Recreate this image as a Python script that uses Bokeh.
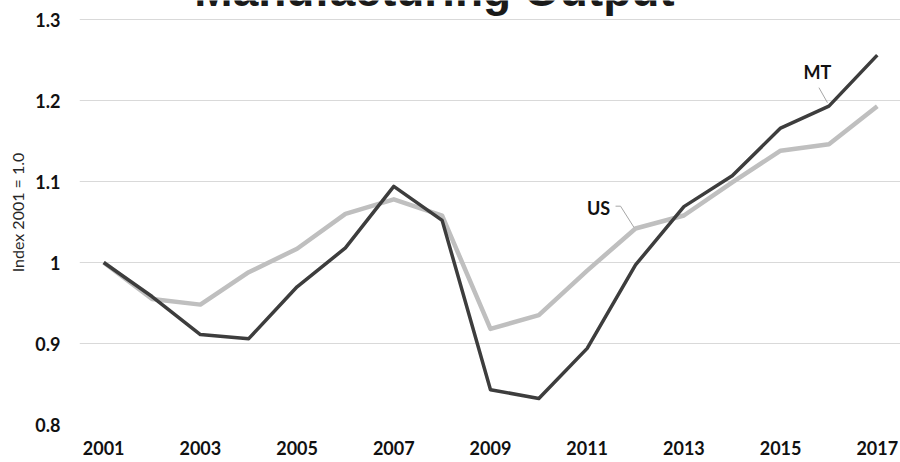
from bokeh.plotting import figure
from bokeh.models import Range1d, FixedTicker
from bokeh.core.properties import value
from bokeh.embed import file_html
from bokeh.resources import INLINE

# ---- data ----
years = list(range(2001, 2018))
mt = [1.000, 0.958, 0.911, 0.906, 0.970, 1.018, 1.094, 1.052, 0.843, 0.832,
      0.894, 0.997, 1.069, 1.107, 1.166, 1.193, 1.256]
us = [1.000, 0.955, 0.948, 0.988, 1.017, 1.060, 1.078, 1.058, 0.918, 0.935,
      0.990, 1.042, 1.058, 1.099, 1.138, 1.146, 1.193]
y_ticks = [0.8, 0.9, 1.0, 1.1, 1.2, 1.3]
y_tick_labels = ["0.8", "0.9", "1", "1.1", "1.2", "1.3"]
x_ticks = list(range(2001, 2018, 2))
title_text = "Manufacturing Output"
y_title = "Index 2001 = 1.0"

W, H = 900, 462
BL, BB = 79, 38
GRID_TOP_PX = 19          # pixel row of the 1.3 gridline
X0, X1 = 2000.5, 2017.48
FRAME_H = H - BB
YPX = (FRAME_H - GRID_TOP_PX) / 0.5
Y0, Y1 = 0.8, 1.3 + GRID_TOP_PX / YPX
XPX = (W - BL) / (X1 - X0)

p = figure(width=W, height=H, output_backend="svg", toolbar_location=None,
           x_range=Range1d(X0, X1), y_range=Range1d(Y0, Y1),
           min_border_left=BL, min_border_right=0, min_border_top=0,
           min_border_bottom=BB)
p.outline_line_color = None
p.background_fill_color = "white"
p.border_fill_color = "white"

p.xgrid.grid_line_color = None
p.ygrid.grid_line_color = "#d9d9d9"
p.ygrid.grid_line_width = 1

p.yaxis.ticker = FixedTicker(ticks=y_ticks)
p.yaxis.major_label_overrides = {t: l for t, l in zip(y_ticks, y_tick_labels)}
p.xaxis.ticker = FixedTicker(ticks=x_ticks)
for ax in (p.xaxis, p.yaxis):
    ax.axis_line_color = None
    ax.major_tick_line_color = None
    ax.minor_tick_line_color = None
    ax.major_tick_in = 0
    ax.major_tick_out = 0
    ax.major_label_text_font = "Lato"
    ax.major_label_text_font_style = "bold"
    ax.major_label_text_font_size = "18px"
    ax.major_label_text_color = "#111111"
p.yaxis.major_label_standoff = 19
p.xaxis.major_label_standoff = 16
p.yaxis.axis_label = y_title
p.yaxis.axis_label_text_font = "Lato"
p.yaxis.axis_label_text_font_style = "normal"
p.yaxis.axis_label_text_font_size = "16px"
p.yaxis.axis_label_text_color = "#262626"
p.yaxis.axis_label_standoff = 5

p.line(years, us, line_color="#bfbfbf", line_width=4.5, line_join="round")
p.line(years, mt, line_color="#3d3d3d", line_width=3.5, line_join="round")

# MT label + leader (anchored to 2016 MT value)
i = years.index(2016)
p.line([years[i] - 10 / XPX, years[i] - 1.5 / XPX],
       [mt[i] + 18.5 / YPX, mt[i] + 3.5 / YPX],
       line_color="#a6a6a6", line_width=1)
p.text([years[i] - 11.6 / XPX], [mt[i] + 34 / YPX], text=["MT"],
       text_font=value("Lato"), text_font_style="bold", text_font_size="18px",
       text_color="#111111", text_align="center", text_baseline="middle")

# US label + leader (anchored to 2012 US value)
j = years.index(2012)
p.line([years[j] - 20 / XPX, years[j] - 15 / XPX, years[j] - 1.5 / XPX],
       [us[j] + 22.3 / YPX, us[j] + 22.3 / YPX, us[j] + 1 / YPX],
       line_color="#a6a6a6", line_width=1)
p.text([years[j] - 37 / XPX], [us[j] + 20.8 / YPX], text=["US"],
       text_font=value("Lato"), text_font_style="bold", text_font_size="18px",
       text_color="#111111", text_align="center", text_baseline="middle")

# Title: cropped at the top edge as in the reference (baseline ~7px from top)
p.text([X0 + (434 - BL) / XPX], [1.3 + (GRID_TOP_PX + 11) / YPX],
       text=[title_text], text_font=value("Liberation Sans"),
       text_font_style="bold", text_font_size="46px", text_color="#1a1a1a",
       text_align="center", text_baseline="middle")

open("out.html", "w").write(file_html(p, INLINE))
